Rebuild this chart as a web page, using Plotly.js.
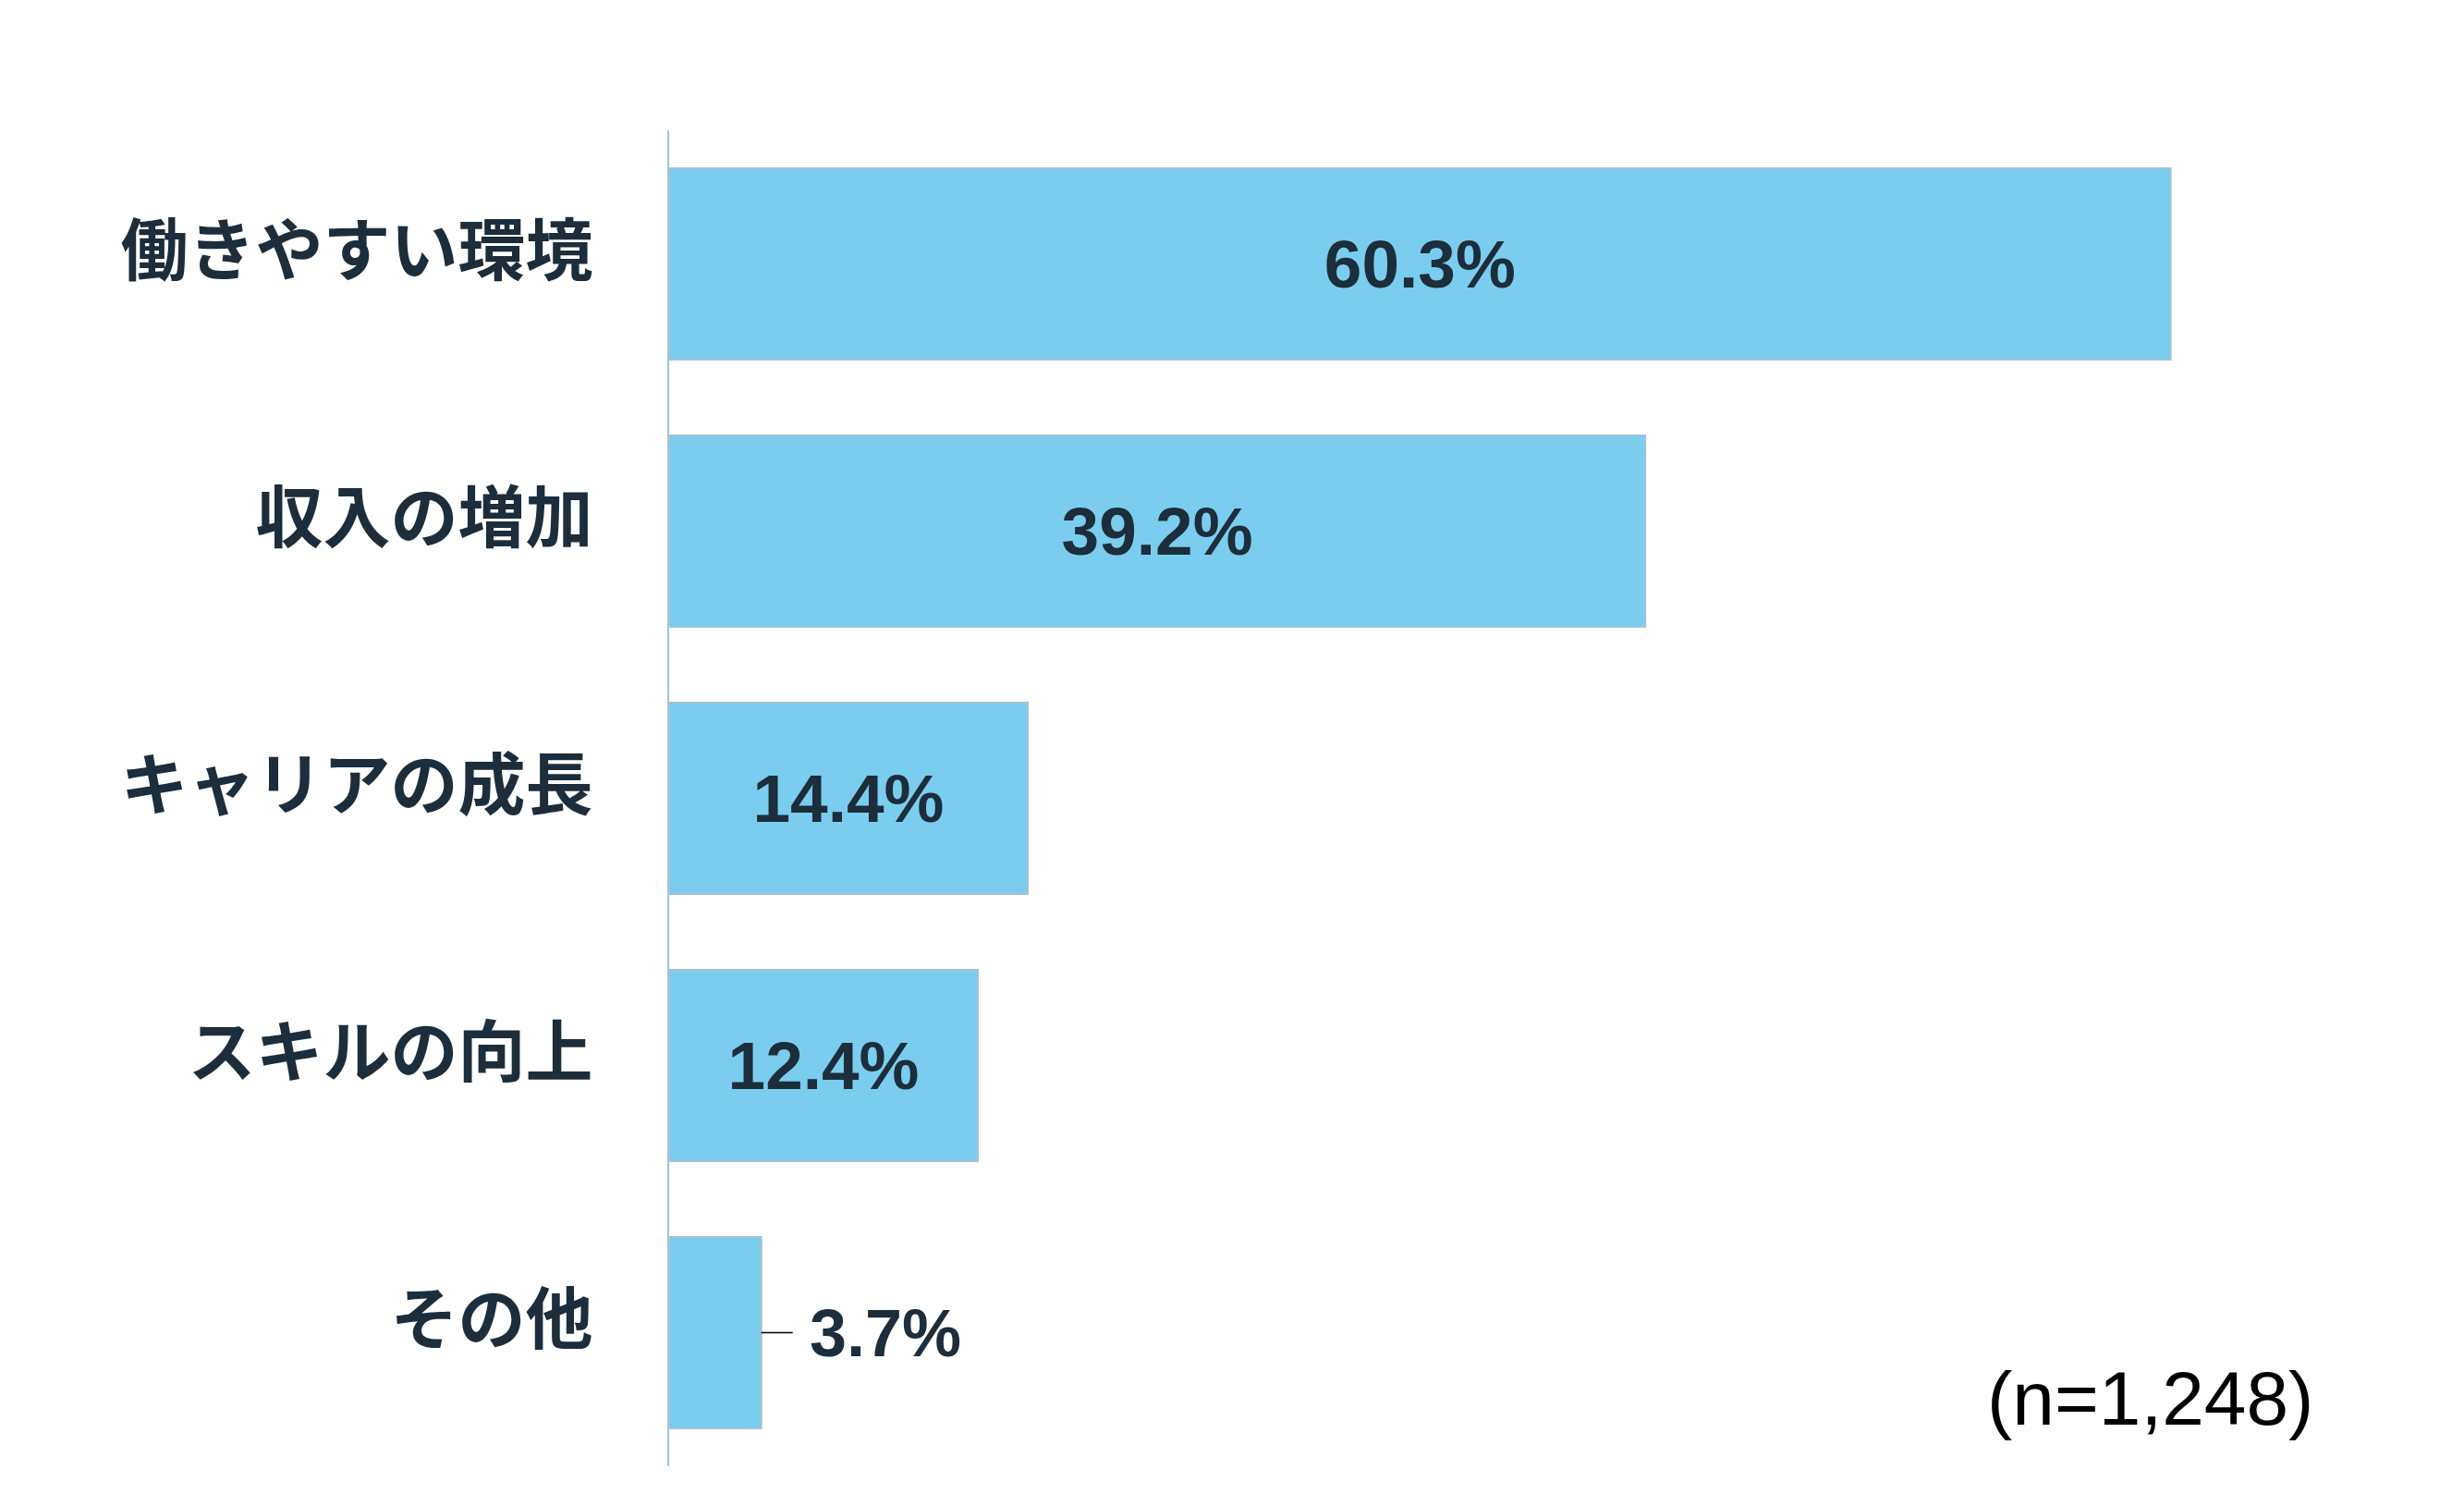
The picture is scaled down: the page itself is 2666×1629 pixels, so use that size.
<!DOCTYPE html>
<html>
<head>
<meta charset="utf-8">
<script src="https://cdn.plot.ly/plotly-3.0.1.min.js"></script>
<style>
  html, body { margin: 0; padding: 0; background: #ffffff; }
  #reason { width: 2666px; height: 1629px; }
</style>
</head>
<body>
<div id="reason"></div>
<script>
// Reasons (n=1,248)
const categories = [
  "働きやすい環境",
  "収入の増加",
  "キャリアの成長",
  "スキルの向上",
  "その他",
];
const shares = [60.3, 39.2, 14.4, 12.4, 3.7];
const sampleNote = "(n=1,248)";

const inkColor = "#1c2d3b";

// big bars get their label inside, small ones get a leader line outside
const insideText = shares.map(v => (v >= 10 ? v.toFixed(1) + "%" : ""));

const dataReason = [{
  type: "bar",
  orientation: "h",
  x: shares,
  y: categories,
  text: insideText,
  textposition: "inside",
  insidetextanchor: "middle",
  textfont: {
    family: "Liberation Sans, Arial, sans-serif",
    size: 73,
    weight: "bold",
    color: inkColor,
  },
  marker: {
    color: "#7acdef",
    line: { color: "#a2c2d6", width: 2 },
  },
  hoverinfo: "skip",
}];

const leaderNotes = shares
  .map((v, i) => ({ v, cat: categories[i] }))
  .filter(d => d.v < 10)
  .map(d => ({
    x: d.v,
    y: d.cat,
    xref: "x",
    yref: "y",
    text: d.v.toFixed(1) + "%",
    showarrow: true,
    arrowhead: 0,
    arrowwidth: 1.5,
    arrowcolor: "#000000",
    ax: 34,
    ay: 0,
    xanchor: "left",
    borderpad: 17,
    font: {
      family: "Liberation Sans, Arial, sans-serif",
      size: 72,
      weight: "bold",
      color: inkColor,
    },
  }));

const layoutReason = {
  width: 2666,
  height: 1629,
  margin: { t: 141, l: 724, r: 56, b: 43 },
  paper_bgcolor: "#ffffff",
  plot_bgcolor: "#ffffff",
  showlegend: false,
  bargap: 0.284,
  xaxis: {
    range: [0, 70],
    showgrid: false,
    zeroline: false,
    showline: false,
    showticklabels: false,
    ticks: "",
  },
  yaxis: {
    autorange: "reversed",
    showgrid: false,
    zeroline: false,
    showline: true,
    linecolor: "#a3c4dc",
    linewidth: 2,
    ticks: "",
    ticklabelstandoff: 66,
    ticklabelshift: 14,
    tickfont: {
      family: "Noto Sans CJK JP, sans-serif",
      size: 73,
      weight: "bold",
      color: inkColor,
    },
  },
  annotations: leaderNotes.concat([{
    xref: "paper",
    yref: "paper",
    x: 0.9443,
    y: 0.051,
    xanchor: "right",
    yanchor: "middle",
    showarrow: false,
    text: sampleNote,
    font: {
      family: "Liberation Sans, Arial, sans-serif",
      size: 82,
      color: "#000000",
    },
  }]),
};

const configReason = { displayModeBar: false, staticPlot: true };

Plotly.newPlot("reason", dataReason, layoutReason, configReason);
</script>
</body>
</html>
